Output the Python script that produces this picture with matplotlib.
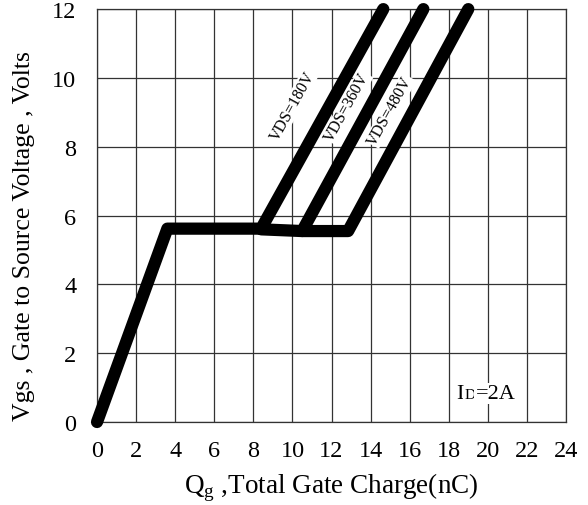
import numpy as np
import matplotlib.pyplot as plt

plt.rcParams['font.family'] = ['Liberation Serif', 'DejaVu Serif']
plt.rcParams['mathtext.fontset'] = 'custom'
plt.rcParams['mathtext.rm'] = 'Liberation Serif'

# gate charge curves (nC, V)
qg_180 = [0.0, 3.6, 8.4, 14.65]
vgs_180 = [0.0, 5.62, 5.62, 12.0]
qg_360 = [8.4, 10.5, 16.7]
vgs_360 = [5.6, 5.55, 12.0]
qg_480 = [10.5, 12.85, 19.0]
vgs_480 = [5.55, 5.55, 12.0]

labels = ["VDS=180V", "VDS=360V", "VDS=480V"]
label_x = [10.0, 12.8, 15.0]
label_y = [9.2, 9.15, 9.05]

xticks = np.arange(0, 25, 2)
yticks = np.arange(0, 13, 2)

fig = plt.figure(figsize=(5.88, 5.06), dpi=100)
ax = fig.add_axes([0.165, 0.164, 0.7976, 0.816])

lw = 8.8
for x, y in [(qg_180, vgs_180), (qg_360, vgs_360), (qg_480, vgs_480)]:
    ax.plot(x, y, color='black', lw=lw, solid_capstyle='round',
            solid_joinstyle='round', zorder=3, clip_on=False)

for t, x, y in zip(labels, label_x, label_y):
    ax.text(x, y, t, rotation=61, fontsize=11.5, ha='center', va='center',
            bbox=dict(facecolor='white', edgecolor='none', pad=0.5), zorder=2)

# ID=2A with a small "D" on the baseline
bb = dict(facecolor='white', edgecolor='none', pad=1)
ax.annotate("I", (18.4, 0.7), fontsize=16, ha='left', va='baseline', bbox=bb, zorder=2)
ax.annotate("D", (18.4, 0.7), xytext=(5.6, 0), textcoords='offset points',
            fontsize=11, ha='left', va='baseline', bbox=bb, zorder=2)
ax.annotate("=2A", (18.4, 0.7), xytext=(13.6, 0), textcoords='offset points',
            fontsize=16, ha='left', va='baseline', bbox=bb, zorder=2)

ax.set_xlim(0, 24)
ax.set_ylim(0, 12)
ax.set_xticks(xticks)
ax.set_yticks(yticks)
ax.grid(True, color='#333333', lw=0.9, zorder=1)
ax.set_axisbelow(True)
ax.tick_params(length=0, labelsize=17.5)
ax.tick_params(axis='x', pad=13)
ax.tick_params(axis='y', pad=15)
for s in ax.spines.values():
    s.set_color('#333333')
    s.set_linewidth(0.9)

ax.set_xlabel(r"Q$_{\rm g}$ ,Total Gate Charge(nC)", fontsize=19.5, va='center')
ax.set_ylabel("Vgs , Gate to Source Voltage , Volts", fontsize=18.5, va='center')
ax.xaxis.set_label_coords(0.5, -0.158)
ax.yaxis.set_label_coords(-0.156, 0.453)

fig.savefig("out.png", dpi=100)
